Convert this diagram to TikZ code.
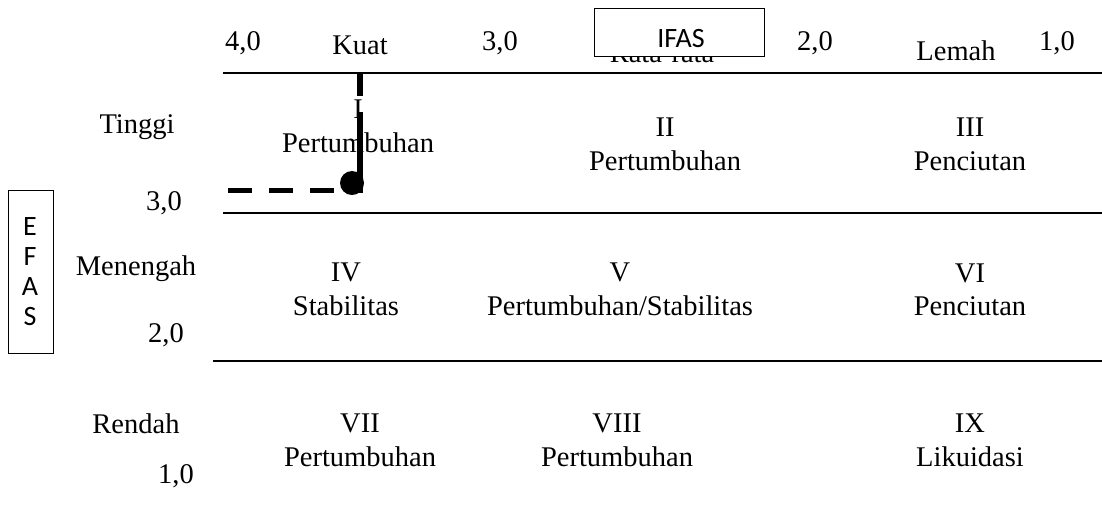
\documentclass[tikz,border=0pt]{standalone}
\usepackage{fontspec}
\setmainfont{Liberation Serif}
\newfontfamily\calibrifont{Carlito}
\begin{document}
\begin{tikzpicture}[x=1pt,y=-1pt,
  lbl/.style={anchor=base,inner sep=0pt,font=\fontsize{28.5}{33}\selectfont},
  sanslbl/.style={anchor=base,inner sep=0pt,font=\calibrifont\fontsize{28}{30}\selectfont},
  frame/.style={draw,line width=0.9pt,inner sep=0pt},
  rule/.style={line width=2.5pt},
  marker/.style={line width=5.5pt}]
\useasboundingbox (0,0) rectangle (1102,512);

% column headings (IFAS axis)
\node[lbl] (t40)   at (243,50) {4,0};
\node[lbl] (tkuat) at (360,54) {Kuat};
\node[lbl] (t30)   at (500,50) {3,0};
\node[lbl] (trata) at (662,62) {Rata-rata};
\node[frame,fill=white,minimum width=170,minimum height=48] (ifas) at (679,32) {};
\node[sanslbl] (ifastxt) at (681,47) {IFAS};
\node[lbl] (t20)   at (815,50) {2,0};
\node[lbl] (tlem)  at (956,60) {Lemah};
\node[lbl] (t10)   at (1057,50) {1,0};

% row headings (EFAS axis)
\node[lbl] (rting) at (137,133) {Tinggi};
\node[lbl] (r30)   at (164,210) {3,0};
\node[lbl] (rmen)  at (136,275) {Menengah};
\node[lbl] (r20)   at (166,342) {2,0};
\node[lbl] (rren)  at (136,433) {Rendah};
\node[lbl] (r10)   at (176,483) {1,0};

\node[frame,minimum width=45,minimum height=163] (efas) at (30.5,271.5) {};
\node[sanslbl] (efE) at (30,235) {E};
\node[sanslbl] (efF) at (30,265) {F};
\node[sanslbl] (efA) at (30,295) {A};
\node[sanslbl] (efS) at (30,325) {S};

% the nine cells
\node[lbl] (c1)  at (358,118) {I};
\node[lbl] (c1n) at (358,152) {Pertumbuhan};
\node[lbl] (c2)  at (665,136) {II};
\node[lbl] (c2n) at (665,170) {Pertumbuhan};
\node[lbl] (c3)  at (970,136) {III};
\node[lbl] (c3n) at (970,170) {Penciutan};
\node[lbl] (c4)  at (346,281) {IV};
\node[lbl] (c4n) at (346,315) {Stabilitas};
\node[lbl] (c5)  at (620,281) {V};
\node[lbl] (c5n) at (620,315) {Pertumbuhan/Stabilitas};
\node[lbl] (c6)  at (970,282) {VI};
\node[lbl] (c6n) at (970,315) {Penciutan};
\node[lbl] (c7)  at (360,432) {VII};
\node[lbl] (c7n) at (360,466) {Pertumbuhan};
\node[lbl] (c8)  at (617,432) {VIII};
\node[lbl] (c8n) at (617,466) {Pertumbuhan};
\node[lbl] (c9)  at (970,432) {IX};
\node[lbl] (c9n) at (970,466) {Likuidasi};

% horizontal rules
\coordinate (h1a) at (223,73);  \coordinate (h1b) at (1102,73);
\coordinate (h2a) at (223,213); \coordinate (h2b) at (1102,213);
\coordinate (h3a) at (213,361); \coordinate (h3b) at (1102,361);
\draw[rule] (h1a) -- (h1b);
\draw[rule] (h2a) -- (h2b);
\draw[rule] (h3a) -- (h3b);

% position marker
\coordinate (vt) at (360,72);  \coordinate (vb) at (360,193);
\coordinate (dl) at (228,190.5); \coordinate (dr) at (334,190.5);
\draw[marker,dash pattern=on 24pt off 16pt on 200pt] (vt) -- (vb);
\draw[marker,dash pattern=on 24pt off 17pt] (dl) -- (dr);
\node[circle,fill=black,minimum size=24,inner sep=0pt] (pos) at (352,183) {};
\end{tikzpicture}
\end{document}
